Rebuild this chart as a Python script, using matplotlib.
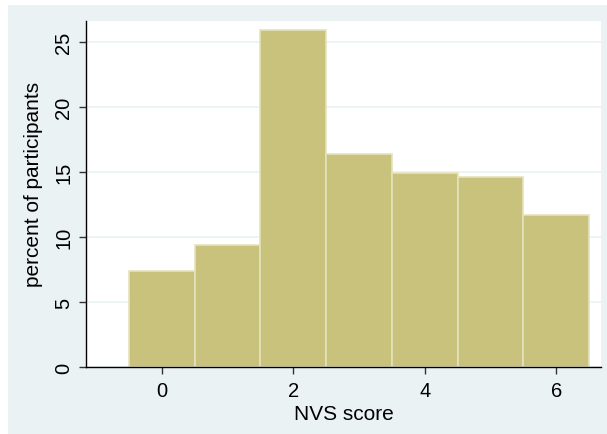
import matplotlib
matplotlib.use("Agg")
import matplotlib.pyplot as plt
from matplotlib.patches import Rectangle

plt.rcParams['font.family'] = ['Liberation Sans', 'DejaVu Sans']

# NVS score distribution
scores = [0, 1, 2, 3, 4, 5, 6]
percents = [7.4, 9.4, 25.9, 16.4, 14.9, 14.6, 11.7]
xticks = [0, 2, 4, 6]
yticks = [0, 5, 10, 15, 20, 25]

bg = '#EAF2F3'
barcol = '#C8C27C'

fig = plt.figure(figsize=(6.07, 4.35), dpi=100)
fig.patch.set_facecolor('white')
fig.patches.append(Rectangle((8 / 607, 0), 1 - 8 / 607, 1 - 6 / 435,
                             transform=fig.transFigure, facecolor=bg,
                             edgecolor='none', zorder=-10))

ax = fig.add_axes([86 / 607, 1 - 368 / 435, (601 - 86) / 607, (368 - 22) / 435])
ax.set_facecolor('white')
ax.bar(scores, percents, width=1.0, color=barcol, edgecolor='#E6E2BE',
       linewidth=1.2, zorder=2)

ax.set_xlim(-1.15, 6.68)
ax.set_ylim(0, 26.6)
ax.set_xticks(xticks)
ax.set_yticks(yticks)
ax.yaxis.grid(True, color=bg, linewidth=1.2, zorder=0)
ax.set_axisbelow(True)

for s in ['top', 'right']:
    ax.spines[s].set_visible(False)
for s in ['left', 'bottom']:
    ax.spines[s].set_color('black')
    ax.spines[s].set_linewidth(1.0)

ax.tick_params(axis='both', labelsize=14.5, length=5, width=1, color='#333333')
ax.tick_params(axis='x', pad=5)
ax.tick_params(axis='y', pad=4)
plt.setp(ax.get_yticklabels(), rotation=90, va='center')
ax.set_xlabel('NVS score', fontsize=15, labelpad=3)
ax.set_ylabel('percent of participants', fontsize=15)
ax.yaxis.set_label_coords(-0.083, 0.53)

fig.savefig('out.png', dpi=100)
